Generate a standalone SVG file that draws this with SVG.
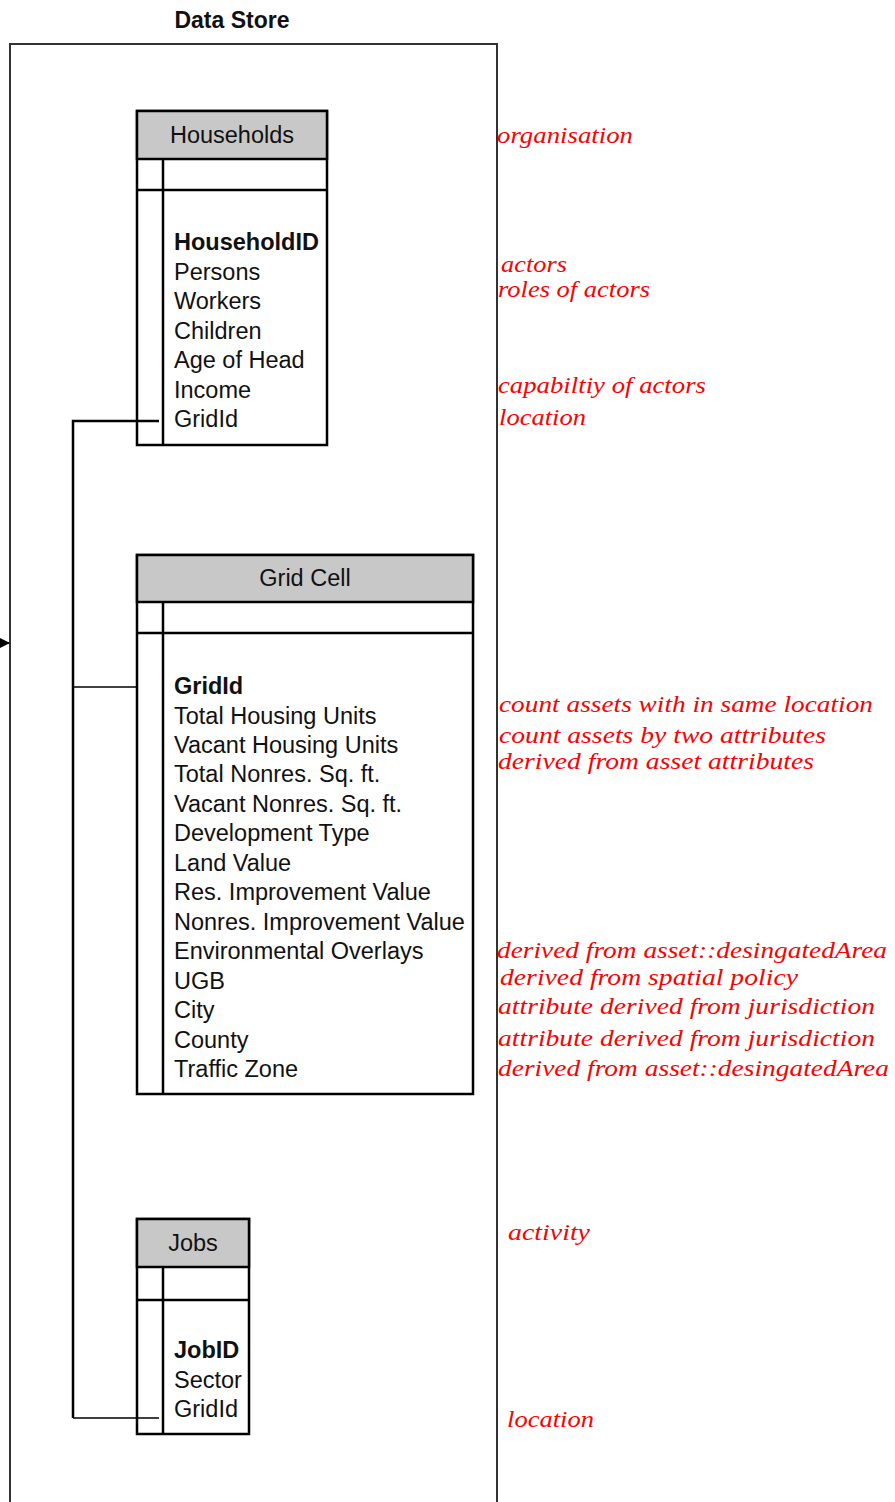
<svg xmlns="http://www.w3.org/2000/svg" width="895" height="1502" viewBox="0 0 895 1502">
<style>
.box{fill:#fff;stroke:#000;stroke-width:2.5}
.hdr{fill:#c8c8c8;stroke:#000;stroke-width:2.5}
.ln{stroke:#000;stroke-width:2.5;fill:none}
.t{font-family:"Liberation Sans",Arial,sans-serif;font-size:23.5px;fill:#111}
.b{font-weight:bold}
.c{text-anchor:middle}
.r{font-family:"Liberation Serif","DejaVu Serif",serif;font-style:italic;font-size:24px;fill:#f00}
.conn{stroke:#000;fill:none}
</style>
<defs>
<marker id="ah" markerWidth="10" markerHeight="10" refX="9" refY="5" orient="auto" markerUnits="userSpaceOnUse">
<path d="M0,0 L10,5 L0,10 Z" fill="#000"/>
</marker>
</defs>
<rect width="895" height="1502" fill="#fff"/>
<g id="datastore">
<text x="232" y="28" class="t b c" style="font-size:23px">Data Store</text>
<path d="M10,1502 V44 H497 V1502" fill="none" stroke="#333" stroke-width="2"/>
</g>
<g id="households">
<rect class="box" x="137" y="111" width="190" height="334"/>
<rect class="hdr" x="137" y="111" width="190" height="48"/>
<line class="ln" x1="137" y1="190" x2="327" y2="190"/>
<line class="ln" x1="163" y1="159" x2="163" y2="445"/>
<text class="t c" x="232" y="143">Households</text>
<text class="t b" x="174" y="250">HouseholdID</text>
<text class="t" x="174" y="280">Persons</text>
<text class="t" x="174" y="309">Workers</text>
<text class="t" x="174" y="339">Children</text>
<text class="t" x="174" y="368">Age of Head</text>
<text class="t" x="174" y="398">Income</text>
<text class="t" x="174" y="427">GridId</text>
</g>
<g id="gridcell">
<rect class="box" x="137" y="555" width="336" height="539"/>
<rect class="hdr" x="137" y="555" width="336" height="47"/>
<line class="ln" x1="137" y1="633" x2="473" y2="633"/>
<line class="ln" x1="163" y1="602" x2="163" y2="1094"/>
<text class="t c" x="305" y="586">Grid Cell</text>
<text class="t b" x="174" y="694">GridId</text>
<text class="t" x="174" y="724">Total Housing Units</text>
<text class="t" x="174" y="753">Vacant Housing Units</text>
<text class="t" x="174" y="782">Total Nonres. Sq. ft.</text>
<text class="t" x="174" y="812">Vacant Nonres. Sq. ft.</text>
<text class="t" x="174" y="841">Development Type</text>
<text class="t" x="174" y="871">Land Value</text>
<text class="t" x="174" y="900">Res. Improvement Value</text>
<text class="t" x="174" y="930">Nonres. Improvement Value</text>
<text class="t" x="174" y="959">Environmental Overlays</text>
<text class="t" x="174" y="989">UGB</text>
<text class="t" x="174" y="1018">City</text>
<text class="t" x="174" y="1048">County</text>
<text class="t" x="174" y="1077">Traffic Zone</text>
</g>
<g id="jobs">
<rect class="box" x="137" y="1219" width="112" height="215"/>
<rect class="hdr" x="137" y="1219" width="112" height="48"/>
<line class="ln" x1="137" y1="1300" x2="249" y2="1300"/>
<line class="ln" x1="163" y1="1267" x2="163" y2="1434"/>
<text class="t c" x="193" y="1251">Jobs</text>
<text class="t b" x="174" y="1358">JobID</text>
<text class="t" x="174" y="1388">Sector</text>
<text class="t" x="174" y="1417">GridId</text>
</g>
<g id="connectors">
<line x1="0" y1="643" x2="9" y2="643" stroke="#000" stroke-width="1.5" marker-end="url(#ah)"/>
<path class="conn" stroke-width="2.5" d="M73,1418 V421 H159"/>
<line class="conn" stroke-width="1.5" x1="73" y1="687" x2="137" y2="687"/>
<line class="conn" stroke-width="1.5" x1="73" y1="1418" x2="159" y2="1418"/>
</g>
<g id="annotations">
<text class="r" x="497" y="143" textLength="136" lengthAdjust="spacingAndGlyphs">organisation</text>
<text class="r" x="501" y="272" textLength="66" lengthAdjust="spacingAndGlyphs">actors</text>
<text class="r" x="498" y="297" textLength="152" lengthAdjust="spacingAndGlyphs">roles of actors</text>
<text class="r" x="498" y="393" textLength="208" lengthAdjust="spacingAndGlyphs">capabiltiy of actors</text>
<text class="r" x="499" y="425" textLength="87" lengthAdjust="spacingAndGlyphs">location</text>
<text class="r" x="499" y="712" textLength="374" lengthAdjust="spacingAndGlyphs">count assets with in same location</text>
<text class="r" x="499" y="743" textLength="327" lengthAdjust="spacingAndGlyphs">count assets by two attributes</text>
<text class="r" x="498" y="769" textLength="316" lengthAdjust="spacingAndGlyphs">derived from asset attributes</text>
<text class="r" x="497" y="958" textLength="390" lengthAdjust="spacingAndGlyphs">derived from asset::desingatedArea</text>
<text class="r" x="500" y="985" textLength="298" lengthAdjust="spacingAndGlyphs">derived from spatial policy</text>
<text class="r" x="498" y="1014" textLength="377" lengthAdjust="spacingAndGlyphs">attribute derived from jurisdiction</text>
<text class="r" x="498" y="1046" textLength="377" lengthAdjust="spacingAndGlyphs">attribute derived from jurisdiction</text>
<text class="r" x="498" y="1076" textLength="391" lengthAdjust="spacingAndGlyphs">derived from asset::desingatedArea</text>
<text class="r" x="508" y="1240" textLength="82" lengthAdjust="spacingAndGlyphs">activity</text>
<text class="r" x="507" y="1427" textLength="87" lengthAdjust="spacingAndGlyphs">location</text>
</g>
</svg>
